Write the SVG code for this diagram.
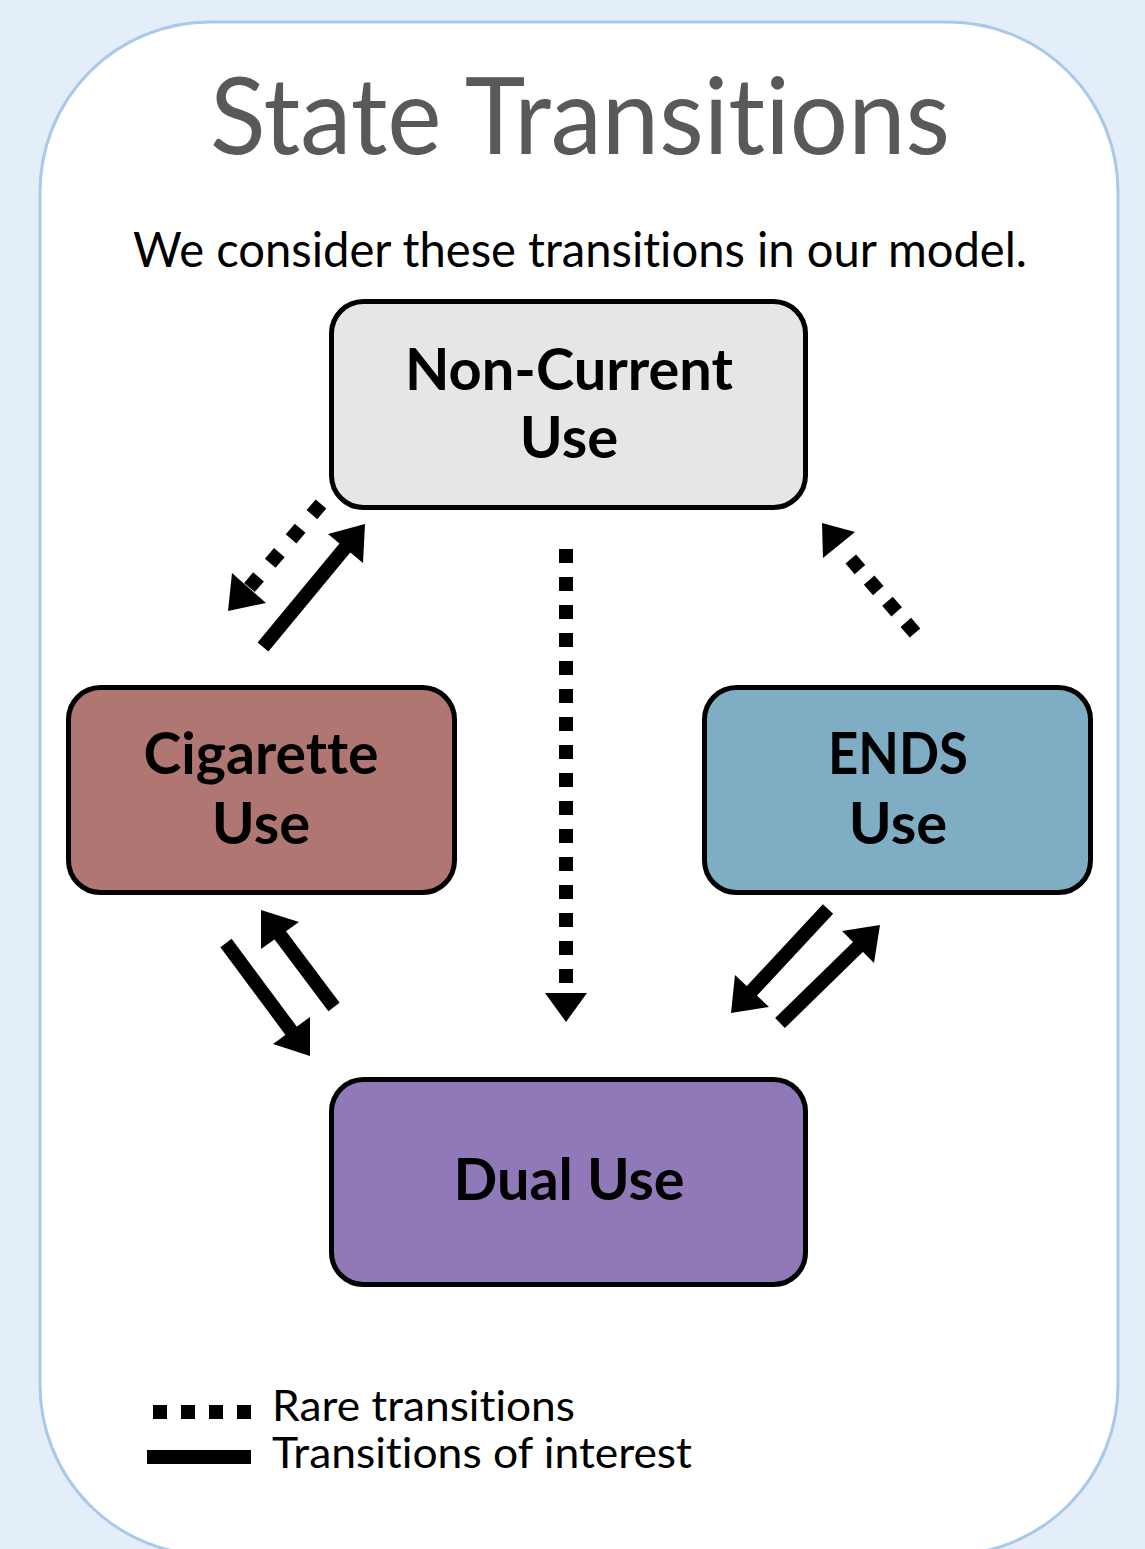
<svg xmlns="http://www.w3.org/2000/svg" width="1145" height="1549" viewBox="0 0 1145 1549">
<style>
text{font-variant-ligatures:none}
.node{stroke:#000;stroke-width:5}
.lbl{font-family:Lato,"Open Sans","Liberation Sans",sans-serif;font-weight:bold;font-size:58px;fill:#000;text-anchor:middle}
.solid{stroke:#000;stroke-width:14;fill:none}
.dot{stroke:#000;stroke-width:14;fill:none}
.head{fill:#000}
.leg{font-family:Lato,"Open Sans","Liberation Sans",sans-serif;font-size:42px;fill:#000}
</style>
<rect x="0" y="0" width="1145" height="1549" fill="#e3eef9"/>
<rect x="40" y="22" width="1078" height="1533" rx="170" ry="170" fill="#fff" stroke="#a9c9ea" stroke-width="3"/>
<text x="210" y="154" font-family="Lato,'Liberation Sans',sans-serif" font-size="106" fill="#595959" textLength="740" lengthAdjust="spacingAndGlyphs">State Transitions</text>
<text x="133" y="267" font-family="Lato,'Liberation Sans',sans-serif" font-size="48" fill="#000" textLength="894" lengthAdjust="spacingAndGlyphs">We consider these transitions in our model.</text>

<g id="node-noncurrent">
<rect class="node" x="331.5" y="301.5" width="474" height="206" rx="32" fill="#e6e6e6"/>
<text class="lbl" x="569" y="390" textLength="328" lengthAdjust="spacingAndGlyphs">Non-Current</text>
<text class="lbl" x="569" y="458">Use</text>
</g>
<g id="node-cigarette">
<rect class="node" x="68.5" y="687.5" width="386" height="205" rx="32" fill="#b07772"/>
<text class="lbl" x="261" y="774" textLength="235" lengthAdjust="spacingAndGlyphs">Cigarette</text>
<text class="lbl" x="261" y="844">Use</text>
</g>
<g id="node-ends">
<rect class="node" x="704.5" y="687.5" width="386" height="205" rx="32" fill="#7eadc4"/>
<text class="lbl" x="898" y="774" textLength="140" lengthAdjust="spacingAndGlyphs">ENDS</text>
<text class="lbl" x="898" y="844">Use</text>
</g>
<g id="node-dual">
<rect class="node" x="331.5" y="1079.5" width="474" height="205" rx="32" fill="#9079b8"/>
<text class="lbl" x="569" y="1200" textLength="231" lengthAdjust="spacingAndGlyphs">Dual Use</text>
</g>

<g id="connectors">
<line class="solid" x1="263" y1="647" x2="349" y2="543"/>
<polygon class="head" points="365,524 328,534 363,563"/>
<line class="dot" x1="321" y1="504" x2="249" y2="588" stroke-dasharray="14 18"/>
<polygon class="head" points="228,611 232,573 266,603"/>
<line class="dot" x1="566" y1="549" x2="566" y2="993" stroke-dasharray="14 14"/>
<polygon class="head" points="545,993 587,993 566,1022"/>
<line class="dot" x1="915" y1="633" x2="843" y2="550" stroke-dasharray="14 14"/>
<polygon class="head" points="822,523 855,532 823,558"/>
<line class="solid" x1="226" y1="943" x2="295" y2="1036"/>
<polygon class="head" points="310,1056 273,1044 310,1017"/>
<line class="solid" x1="334" y1="1007" x2="277" y2="931"/>
<polygon class="head" points="261,910 261,949 299,922"/>
<line class="solid" x1="828" y1="909" x2="748" y2="995"/>
<polygon class="head" points="731,1013 735,975 769,1007"/>
<line class="solid" x1="780" y1="1023" x2="862" y2="943"/>
<polygon class="head" points="880,925 842,931 874,963"/>
</g>

<g id="legend">
<line class="dot" x1="153" y1="1412" x2="251" y2="1412" stroke-dasharray="14 14"/>
<line class="solid" x1="147" y1="1457" x2="251" y2="1457"/>
<text class="leg" x="272" y="1421" textLength="303" lengthAdjust="spacingAndGlyphs">Rare transitions</text>
<text class="leg" x="272" y="1468" textLength="420" lengthAdjust="spacingAndGlyphs">Transitions of interest</text>
</g>
</svg>
